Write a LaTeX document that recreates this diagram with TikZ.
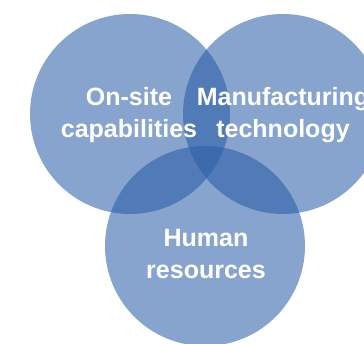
\documentclass[tikz,border=0pt]{standalone}
\usepackage{fontspec}
\setmainfont{Liberation Sans}
\usetikzlibrary{positioning}
\definecolor{vennblue}{RGB}{40,92,165}

\begin{document}
\begin{tikzpicture}[x=1pt,y=-1pt,
    venn/.style={circle,minimum size=200pt,inner sep=0pt,draw=none,
      fill=vennblue,fill opacity=0.56},
    lbl/.style={text=white,align=center,anchor=base,
      font=\bfseries\fontsize{25}{32}\selectfont}]
  \clip (0,0) rectangle (364,344);
  % the three sets
  \node[venn] (onsite) at (130,114) {};
  \node[venn] (manuf)  at (283,114) {};
  \node[venn] (human)  at (205,246) {};
  % labels on top
  \node[lbl] (onsitetxt) at (129,138) {On-site\\capabilities};
  \node[lbl] (manuftxt)  at (283,138) {Manufacturing\\technology};
  \node[lbl] (humantxt)  at (206,279) {Human\\resources};
\end{tikzpicture}
\end{document}
